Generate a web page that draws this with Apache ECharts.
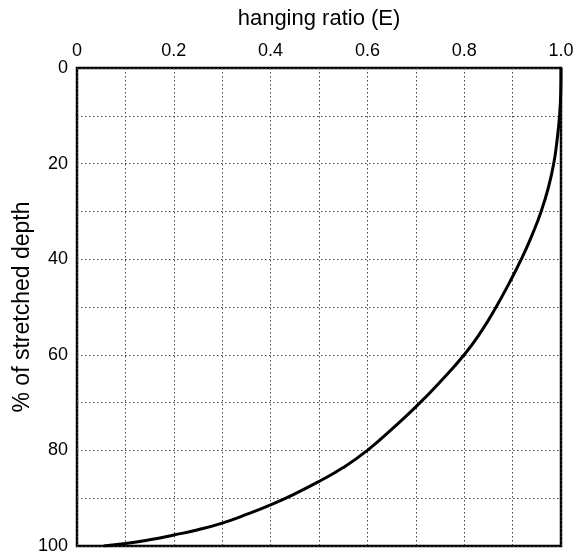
<!DOCTYPE html>
<html>
<head>
<meta charset="utf-8">
<script src="https://cdn.jsdelivr.net/npm/echarts@6/dist/echarts.min.js"></script>
<style>
  html, body { margin: 0; padding: 0; background: #fff; }
  #chart { width: 576px; height: 555px; }
</style>
</head>
<body>
<div id="chart"></div>
<script>
// Hanging-wall ratio E versus percentage of stretched depth
const depthPct = [0, 5, 10, 15, 20, 25, 30, 35, 40, 45, 50, 55, 60, 65.7, 70.9, 75.6, 80, 83.6, 86.5, 89.1, 91.4, 93.4, 95.2, 96.6, 97.7, 98.7, 99.5, 100];
const hangingRatio = [1.0, 0.9995, 0.997, 0.992, 0.985, 0.974, 0.959, 0.94, 0.918, 0.893, 0.866, 0.836, 0.80, 0.75, 0.70, 0.65, 0.60, 0.55, 0.50, 0.45, 0.40, 0.35, 0.30, 0.25, 0.20, 0.15, 0.10, 0.055];

const xTickValues = [0, 0.2, 0.4, 0.6, 0.8, 1.0];
const xTickLabels = ['0', '0.2', '0.4', '0.6', '0.8', '1.0'];
const yTickValues = [0, 20, 40, 60, 80, 100];
const yTickLabels = ['0', '20', '40', '60', '80', '100'];

const FONT = '"Liberation Sans", Arial, Helvetica, sans-serif';

function labelFor(values, labels, v) {
  for (let i = 0; i < values.length; i++) {
    if (Math.abs(values[i] - v) < 1e-6) return labels[i];
  }
  return '';
}

const gridLine = { show: true, lineStyle: { color: '#444', width: 1, type: [1.5, 2.5] } };

const chart = echarts.init(document.getElementById('chart'), null, { renderer: 'canvas' });
chart.setOption({
  animation: false,
  backgroundColor: '#fff',
  grid: {
    left: 77, right: 15, top: 68, bottom: 9,
    outerBoundsMode: 'none',
    containLabel: false,
    show: true, borderColor: '#000', borderWidth: 2.5, backgroundColor: 'transparent'
  },
  xAxis: {
    type: 'value', position: 'top', min: 0, max: 1, interval: 0.1,
    name: 'hanging ratio (E)', nameLocation: 'middle', nameGap: 38,
    nameMoveOverlap: false,
    nameTextStyle: { fontFamily: FONT, fontSize: 22, color: '#000' },
    axisLine: { show: false }, axisTick: { show: false },
    axisLabel: {
      margin: 8, fontFamily: FONT, fontSize: 18, color: '#000',
      formatter: v => labelFor(xTickValues, xTickLabels, v)
    },
    splitLine: gridLine
  },
  yAxis: {
    type: 'value', inverse: true, min: 0, max: 100, interval: 10,
    name: '% of stretched depth', nameLocation: 'middle', nameGap: 43, nameRotate: 90,
    nameMoveOverlap: false,
    nameTextStyle: { fontFamily: FONT, fontSize: 23, color: '#000' },
    axisLine: { show: false }, axisTick: { show: false },
    axisLabel: {
      margin: 9, fontFamily: FONT, fontSize: 18, color: '#000',
      formatter: v => labelFor(yTickValues, yTickLabels, v)
    },
    splitLine: gridLine
  },
  series: [{
    type: 'line',
    data: depthPct.map((d, i) => [hangingRatio[i], d]),
    showSymbol: false,
    smooth: 0.5,
    lineStyle: { color: '#000', width: 3 },
    z: 5
  }]
});
</script>
</body>
</html>
